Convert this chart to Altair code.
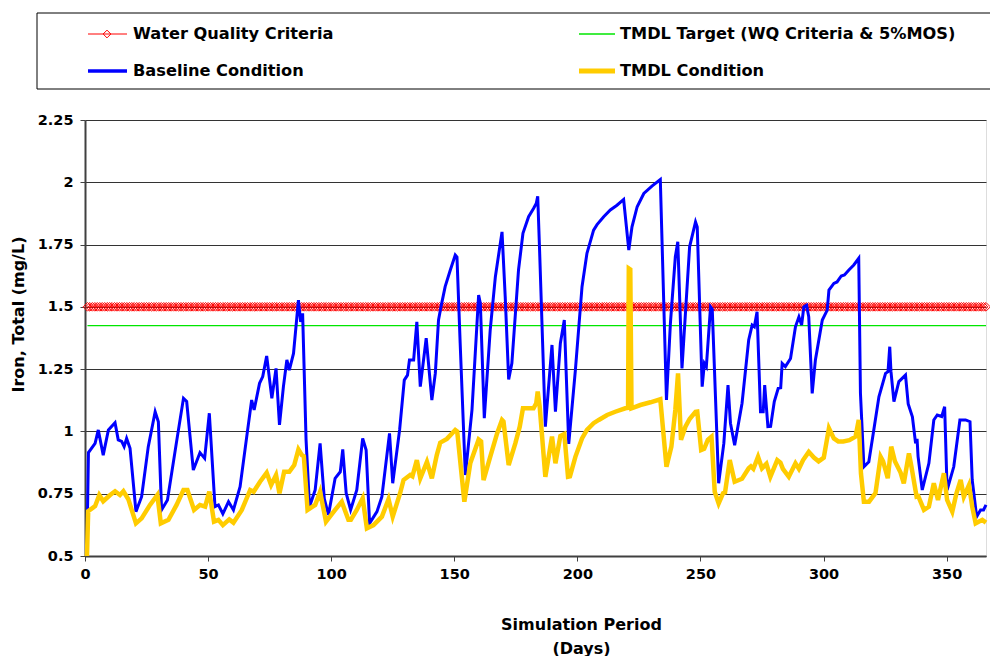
import altair as alt
import pandas as pd

# ---------------- data ----------------
baseline_day = [1.0, 1.4, 4.1, 5.4, 7.4, 9.5, 12.2, 13.5, 14.9, 15.9, 16.9, 18.3, 20.7, 23.0, 25.7, 28.5, 29.8,
                31.1, 33.5, 37.2, 40.0, 41.3, 44.0, 46.7, 48.6, 50.5, 52.8, 54.2, 56.0, 58.3, 60.3, 63.0, 65.7,
                67.7, 68.7, 70.9, 72.2, 73.8, 75.9, 77.6, 79.0, 80.6, 82.0, 83.0, 84.7, 86.7, 87.6, 88.4, 89.8,
                91.2, 93.5, 95.5, 97.2, 98.9, 101.6, 103.7, 104.7, 106.1, 107.9, 110.4, 112.8, 114.2, 115.6,
                118.6, 120.6, 123.7, 125.0, 127.8, 129.7, 131.0, 131.8, 133.5, 134.8, 136.2, 138.6, 140.9, 142.3,
                143.6, 144.6, 146.3, 148.4, 150.4, 151.1, 152.4, 154.5, 157.2, 159.9, 160.6, 162.2, 164.6, 166.7,
                169.4, 170.7, 172.1, 173.4, 176.1, 177.9, 180.2, 182.2, 183.3, 183.9, 184.7, 187.0, 189.7, 191.1,
                193.1, 194.7, 196.5, 199.2, 201.9, 203.9, 206.6, 208.0, 210.7, 213.4, 216.1, 218.8, 220.9, 222.2,
                224.3, 227.0, 230.3, 233.7, 236.2, 237.8, 239.8, 240.8, 242.5, 245.6, 248.0, 248.7, 250.7, 251.6,
                252.4, 254.1, 254.8, 257.4, 259.5, 261.2, 262.2, 263.9, 266.9, 269.6, 271.0, 271.9, 273.0, 274.4,
                275.5, 276.1, 277.4, 278.5, 280.0, 281.6, 282.6, 283.2, 284.5, 286.6, 288.6, 290.0, 291.1, 292.0,
                293.1, 294.0, 295.4, 296.7, 299.5, 301.5, 302.2, 304.2, 305.5, 307.2, 308.5, 310.3, 312.3, 314.3,
                315.0, 316.4, 318.4, 320.2, 322.5, 325.2, 326.2, 326.9, 327.4, 328.6, 330.6, 333.3, 334.4, 336.1,
                337.4, 338.0, 338.4, 340.1, 342.8, 344.8, 346.2, 348.0, 349.2, 350.2, 352.9, 355.4, 357.7, 359.5,
                360.4, 362.2, 363.8, 365.0, 366.0]
baseline_val = [0.67, 0.915, 0.952, 1.006, 0.905, 1.006, 1.035, 0.966, 0.96, 0.939, 0.972, 0.932, 0.678, 0.738,
                0.939, 1.079, 1.039, 0.685, 0.725, 0.959, 1.133, 1.12, 0.845, 0.915, 0.892, 1.073, 0.698, 0.705,
                0.669, 0.718, 0.685, 0.778, 0.979, 1.126, 1.086, 1.193, 1.22, 1.303, 1.133, 1.253, 1.026, 1.18,
                1.287, 1.246, 1.313, 1.527, 1.44, 1.474, 0.966, 0.698, 0.765, 0.952, 0.73, 0.665, 0.812, 0.838,
                0.928, 0.752, 0.685, 0.765, 0.972, 0.925, 0.631, 0.678, 0.738, 0.992, 0.792, 1.006, 1.206, 1.226,
                1.287, 1.287, 1.44, 1.18, 1.374, 1.126, 1.233, 1.447, 1.5, 1.581, 1.648, 1.708, 1.70, 1.354, 0.825,
                1.086, 1.547, 1.514, 1.053, 1.407, 1.621, 1.801, 1.54, 1.209, 1.273, 1.648, 1.795, 1.862, 1.895,
                1.915, 1.944, 1.715, 1.019, 1.347, 1.079, 1.354, 1.447, 0.95, 1.246, 1.581, 1.715, 1.808, 1.83,
                1.862, 1.889, 1.908, 1.931, 1.728, 1.821, 1.902, 1.955, 1.985, 2.011, 1.126, 1.434, 1.701, 1.761,
                1.253, 1.741, 1.841, 1.82, 1.18, 1.273, 1.26, 1.5, 1.49, 0.792, 0.952, 1.186, 1.033, 0.945, 1.113,
                1.367, 1.427, 1.42, 1.48, 1.079, 1.079, 1.186, 1.019, 1.02, 1.12, 1.173, 1.175, 1.273, 1.26, 1.293,
                1.42, 1.46, 1.427, 1.5, 1.507, 1.46, 1.153, 1.287, 1.447, 1.487, 1.567, 1.594, 1.6, 1.624, 1.628,
                1.648, 1.668, 1.695, 1.153, 0.858, 0.878, 0.992, 1.139, 1.233, 1.24, 1.34, 1.24, 1.12, 1.2, 1.226,
                1.11, 1.059, 0.952, 0.97, 0.9, 0.765, 0.872, 1.046, 1.066, 1.06, 1.099, 0.765, 0.858, 1.046, 1.046,
                1.039, 0.805, 0.658, 0.685, 0.685, 0.705]

tmdl_day = [0.8, 1.3, 4.1, 5.8, 7.4, 10.2, 12.2, 14.2, 15.6, 17.6, 20.7, 23.0, 26.4, 29.4, 30.8, 33.9, 37.2,
            40.0, 41.6, 44.3, 46.7, 48.8, 50.5, 52.4, 54.2, 56.0, 58.6, 60.3, 63.7, 67.1, 68.5, 71.1, 73.8, 75.6,
            77.6, 79.0, 80.9, 83.0, 85.0, 86.7, 88.1, 88.9, 90.4, 93.5, 95.5, 97.9, 101.6, 104.3, 107.0, 108.0,
            110.4, 112.8, 114.5, 117.2, 120.6, 123.3, 125.0, 128.0, 129.4, 132.1, 133.0, 134.8, 136.2, 138.9,
            140.9, 142.9, 144.3, 147.0, 150.4, 151.2, 154.1, 156.5, 159.9, 160.9, 161.9, 164.6, 167.4, 169.4,
            170.0, 172.1, 174.8, 176.6, 177.9, 182.2, 183.3, 183.9, 184.7, 187.0, 189.7, 191.1, 193.1, 194.7,
            196.2, 197.0, 199.2, 201.9, 203.9, 206.6, 208.7, 212.1, 215.4, 219.5, 220.6, 220.9, 221.5, 222.0,
            225.6, 229.7, 233.7, 236.2, 238.2, 239.8, 240.9, 242.1, 243.9, 245.6, 248.0, 248.7, 250.3, 251.5,
            253.0, 254.5, 255.8, 257.4, 259.2, 260.0, 261.9, 263.9, 266.9, 269.6, 270.5, 271.5, 273.4, 275.0,
            276.8, 278.4, 281.2, 282.5, 283.5, 285.9, 288.6, 290.0, 291.7, 294.0, 296.1, 298.0, 300.1, 302.2,
            304.2, 306.0, 308.0, 310.5, 313.0, 314.3, 315.2, 316.4, 318.5, 321.1, 323.2, 324.2, 326.1, 327.5,
            329.0, 331.3, 332.6, 334.7, 335.7, 337.8, 338.5, 340.8, 342.8, 344.8, 346.5, 348.9, 350.2, 352.3,
            354.0, 355.7, 357.0, 359.1, 360.4, 361.8, 364.5, 366.0]
tmdl_val = [0.5, 0.68, 0.70, 0.745, 0.72, 0.745, 0.76, 0.745, 0.76, 0.728, 0.631, 0.651, 0.705, 0.745, 0.631,
            0.645, 0.705, 0.765, 0.765, 0.685, 0.705, 0.698, 0.758, 0.638, 0.645, 0.624, 0.647, 0.634, 0.685,
            0.765, 0.758, 0.798, 0.834, 0.785, 0.825, 0.752, 0.838, 0.838, 0.865, 0.928, 0.905, 0.90, 0.685,
            0.705, 0.758, 0.638, 0.685, 0.718, 0.645, 0.645, 0.685, 0.732, 0.611, 0.624, 0.658, 0.728, 0.658,
            0.752, 0.805, 0.825, 0.82, 0.885, 0.812, 0.878, 0.812, 0.905, 0.955, 0.97, 1.006, 1.0, 0.718, 0.872,
            0.968, 0.96, 0.805, 0.898, 0.992, 1.046, 1.04, 0.865, 0.952, 1.019, 1.093, 1.093, 1.113, 1.16, 1.1,
            0.818, 0.979, 0.872, 0.982, 0.99, 0.818, 0.82, 0.898, 0.972, 1.006, 1.033, 1.046, 1.066, 1.079,
            1.093, 1.095, 1.654, 1.65, 1.093, 1.106, 1.117, 1.129, 0.858, 0.939, 1.086, 1.233, 0.966, 1.019,
            1.05, 1.079, 1.08, 0.925, 0.93, 0.966, 0.979, 0.758, 0.711, 0.752, 0.755, 0.885, 0.798, 0.81, 0.852,
            0.86, 0.85, 0.898, 0.852, 0.87, 0.818, 0.885, 0.875, 0.85, 0.818, 0.872, 0.85, 0.885, 0.918, 0.895,
            0.88, 0.895, 1.013, 0.972, 0.96, 0.96, 0.965, 0.979, 1.046, 0.832, 0.718, 0.718, 0.752, 0.898, 0.88,
            0.812, 0.939, 0.88, 0.835, 0.792, 0.912, 0.86, 0.738, 0.74, 0.685, 0.698, 0.792, 0.725, 0.832, 0.725,
            0.678, 0.752, 0.805, 0.738, 0.785, 0.698, 0.631, 0.645, 0.634]

criteria_days = list(range(1, 367))
criteria_value = 1.5
target_value = 1.425

x_ticks = [0, 50, 100, 150, 200, 250, 300, 350]
y_ticks = [0.5, 0.75, 1.0, 1.25, 1.5, 1.75, 2.0, 2.25]
legend_labels = ["Water Quality Criteria", "TMDL Target (WQ Criteria & 5%MOS)",
                 "Baseline Condition", "TMDL Condition"]

# ---------------- styling ----------------
FONT = "DejaVu Sans"
RED, GREEN, BLUE, GOLD = "#FF0000", "#00E600", "#0000FF", "#FFCC00"

x_scale = alt.Scale(domain=[0, 366], nice=False, zero=False)
y_scale = alt.Scale(domain=[0.5, 2.25], nice=False, zero=False)

x_axis = alt.Axis(values=x_ticks, grid=False, title=["Simulation Period", "(Days)"],
                  labelFont=FONT, labelFontWeight="bold", labelFontSize=14.5, labelColor="black",
                  labelPadding=6, labelFlush=False, tickSize=5, tickColor="#404040",
                  domainColor="#404040", domainWidth=2,
                  titleFont=FONT, titleFontWeight="bold", titleFontSize=16, titleColor="black",
                  titleX=496, titleY=73, titleAlign="center", titleBaseline="alphabetic",
                  titleLineHeight=24)
y_axis = alt.Axis(values=y_ticks, grid=True, gridColor="#333333", gridWidth=1,
                  title="Iron, Total (mg/L)", labelExpr="datum.value + ''",
                  labelFont=FONT, labelFontWeight="bold", labelFontSize=14.5, labelColor="black",
                  labelPadding=7, labelFlush=False, tickSize=5, tickColor="#404040",
                  domainColor="#404040", domainWidth=2,
                  titleFont=FONT, titleFontWeight="bold", titleFontSize=16, titleColor="black",
                  titleX=-67, titleY=194, titleAngle=270, titleAlign="center", titleBaseline="middle")

X = alt.X("day:Q", scale=x_scale, axis=x_axis)
Y = alt.Y("value:Q", scale=y_scale, axis=y_axis)

df_base = pd.DataFrame({"day": baseline_day, "value": baseline_val})
df_tmdl = pd.DataFrame({"day": tmdl_day, "value": tmdl_val})
df_wq = pd.DataFrame({"day": criteria_days, "value": [criteria_value] * len(criteria_days)})
df_tg = pd.DataFrame({"day": criteria_days, "value": [target_value] * len(criteria_days)})

wq_line = alt.Chart(df_wq).mark_line(color=RED, strokeWidth=1).encode(x=X, y=Y)
wq_pts = alt.Chart(df_wq).mark_point(shape="diamond", filled=False, size=75, color=RED,
                                     strokeWidth=1, opacity=1).encode(x=X, y=Y)
tg = alt.Chart(df_tg).mark_line(color=GREEN, strokeWidth=1.2).encode(x=X, y=Y)
base = alt.Chart(df_base).mark_line(color=BLUE, strokeWidth=3).encode(x=X, y=Y)
tmdl = alt.Chart(df_tmdl).mark_line(color=GOLD, strokeWidth=4.5).encode(x=X, y=Y)

# ---------------- legend (drawn above the plot area) ----------------
dummy = pd.DataFrame({"k": [0]})
leg_box = alt.Chart(dummy).mark_rect(fillOpacity=0, stroke="black", strokeWidth=1).encode(
    x=alt.value(-48), x2=alt.value(940), y=alt.value(-107), y2=alt.value(-31))

def leg_line(x1, x2, y, color, w):
    return alt.Chart(dummy).mark_rule(color=color, strokeWidth=w).encode(
        x=alt.value(x1), x2=alt.value(x2), y=alt.value(y))

def leg_text(x, y, label):
    return alt.Chart(dummy).mark_text(align="left", baseline="middle", font=FONT, fontWeight="bold",
                                      fontSize=16.2, color="black").encode(
        x=alt.value(x), y=alt.value(y), text=alt.value(label))

leg_diamond = alt.Chart(dummy).mark_point(shape="diamond", filled=False, size=60, color=RED,
                                          strokeWidth=1, opacity=1).encode(x=alt.value(22), y=alt.value(-86))

legend_layers = [
    leg_box,
    leg_line(3, 42, -86, RED, 1), leg_diamond, leg_text(48, -86, legend_labels[0]),
    leg_line(494, 530, -86, GREEN, 1.5), leg_text(535, -86, legend_labels[1]),
    leg_line(3, 42, -49, BLUE, 3.5), leg_text(48, -49, legend_labels[2]),
    leg_line(494, 530, -49, GOLD, 5), leg_text(535, -49, legend_labels[3]),
]

chart = alt.layer(wq_line, wq_pts, tg, base, tmdl, *legend_layers).properties(
    width=901, height=436,
    padding={"left": 77, "top": 112, "right": 4, "bottom": 102},
    autosize=alt.AutoSizeParams(type="none"),
).configure_view(stroke="#808080", strokeWidth=1).configure(background="white")

chart.save("out.html", embed_options={"renderer": "svg", "actions": False})
